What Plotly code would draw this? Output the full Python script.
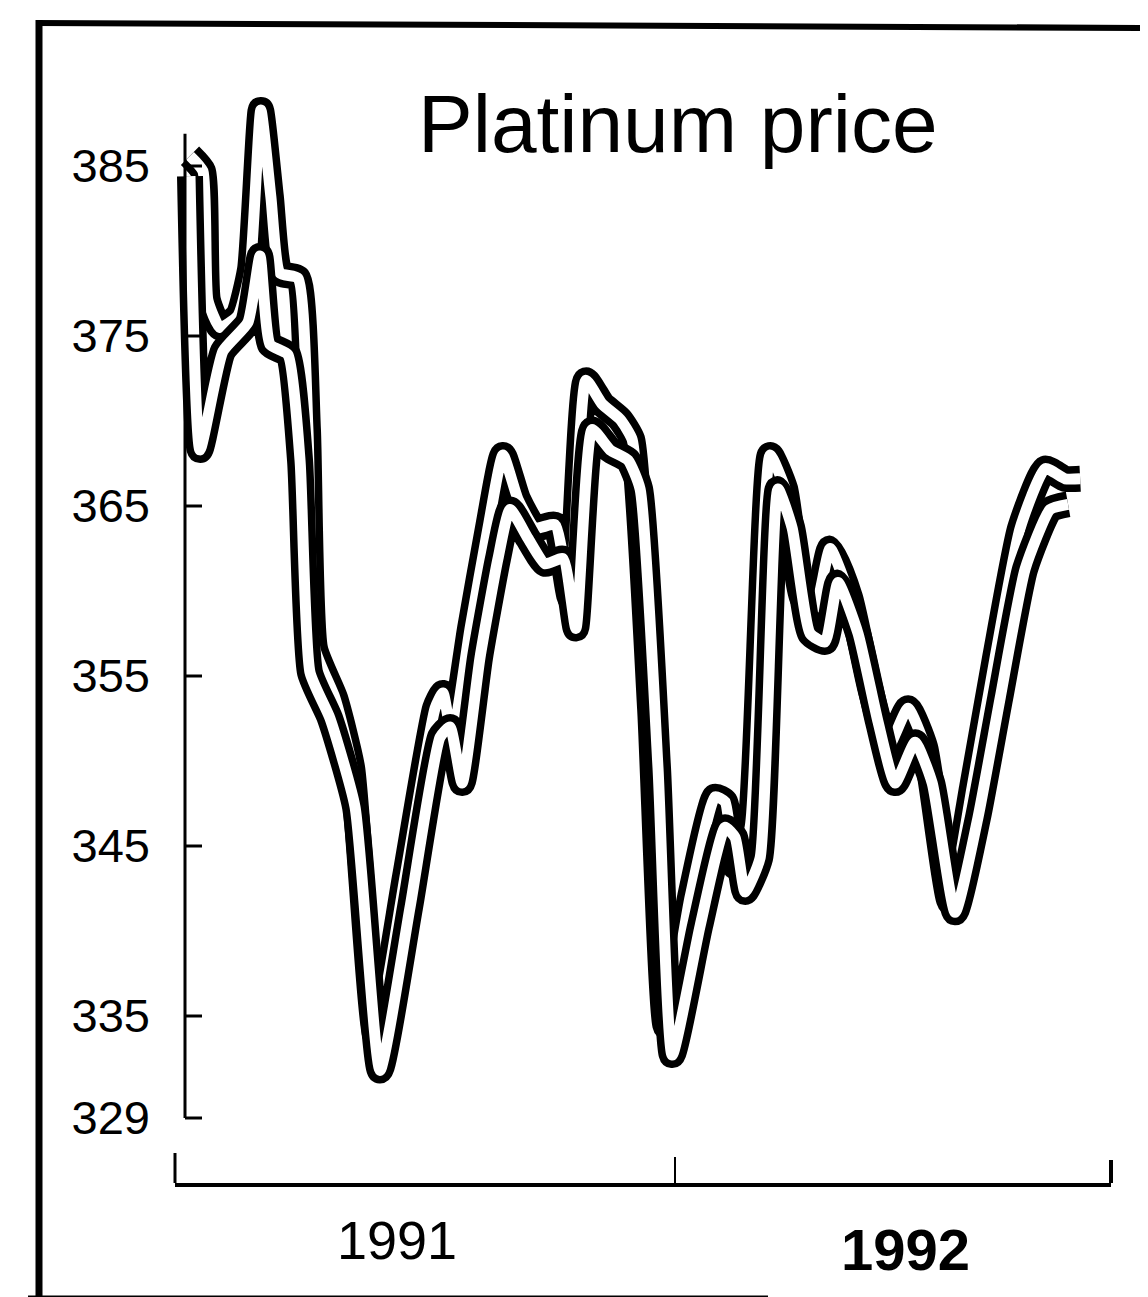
import plotly.graph_objects as go

# ---- data (months since Jan 1991, price in US$/oz) ----
months_a = [0.36, 0.67, 0.79, 1.08, 1.51, 1.80, 2.06, 2.30, 2.52, 2.95, 3.19, 3.36, 3.84, 4.25, 4.82,
            5.52, 6.24, 6.43, 6.65, 7.08, 7.51, 7.87, 8.23, 8.64, 9.12, 9.48, 9.86, 10.25, 10.68, 10.97,
            11.40, 11.78, 12.36, 12.96, 13.20, 13.44, 13.80, 14.28, 14.64, 15.05, 15.36, 15.72, 16.20,
            16.68, 17.11, 17.59, 18.00, 18.60, 19.13, 19.68, 20.28, 20.88, 21.36, 21.72]
price_a = [385.6, 384.7, 377.1, 375.5, 376.2, 378.9, 388.3, 383.2, 378.7, 378.4, 369.5, 356.6, 353.7,
           349.6, 333.8, 343.2, 353.1, 354.0, 351.4, 357.8, 363.7, 368.0, 365.4, 363.7, 363.9, 359.6,
           372.4, 371.0, 370.1, 368.9, 353.1, 334.4, 342.0, 347.9, 347.6, 343.8, 346.1, 368.0, 366.0,
           359.6, 359.0, 362.5, 359.6, 354.3, 350.8, 353.1, 350.8, 341.7, 348.5, 356.1, 363.7, 367.2,
           366.6, 366.6]

months_b = [0.36, 0.60, 1.15, 1.75, 2.04, 2.28, 2.71, 3.00, 3.24, 3.72, 4.32, 4.92, 5.64, 6.36, 6.60,
            6.89, 7.32, 7.75, 8.04, 8.47, 8.88, 9.31, 9.62, 10.01, 10.44, 10.87, 11.16, 11.59, 11.93,
            12.60, 13.20, 13.44, 13.68, 14.04, 14.47, 14.81, 15.24, 15.60, 15.91, 16.39, 16.87, 17.28,
            17.76, 18.17, 18.72, 19.27, 19.80, 20.40, 21.00, 21.43]
price_b = [384.4, 368.3, 374.1, 375.8, 379.7, 374.5, 373.9, 367.7, 355.2, 352.5, 347.3, 331.8, 341.4,
           351.4, 352.0, 348.7, 356.1, 361.9, 364.8, 363.1, 361.6, 361.9, 357.8, 369.5, 368.3, 367.7,
           366.0, 349.6, 332.7, 340.3, 346.1, 345.5, 342.3, 344.3, 366.0, 363.7, 357.5, 357.0, 360.5,
           357.5, 352.3, 348.7, 351.1, 348.7, 341.1, 346.7, 353.7, 361.3, 364.8, 365.1]

y_ticks = [385, 375, 365, 355, 345, 335, 329]
y_tick_text = ["385", "375", "365", "355", "345", "335", "329"]
year_labels = ["1991", "1992"]
year_pos = [5.33, 17.52]
year_tick = [12]
title_text = "Platinum price"

# plot area in pixels: x 167..1103, y 60..1175 ; 17 px per $ (365 at y=498)
L, R, T, B = 167, 1103, 60, 1175
X_RANGE = [0, 22.46]
Y_RANGE = [365 - (B - 498) / 17.0, 365 + (498 - T) / 17.0]

FONT = "Liberation Sans, Arial, sans-serif"

fig = go.Figure()
for mx, py in [(months_a, price_a), (months_b, price_b)]:
    fig.add_trace(go.Scatter(x=mx, y=py, mode="lines",
                             line=dict(color="black", width=26, shape="spline", smoothing=0.5),
                             hoverinfo="skip", showlegend=False))
    fig.add_trace(go.Scatter(x=mx, y=py, mode="lines",
                             line=dict(color="white", width=11, shape="spline", smoothing=0.5),
                             hoverinfo="skip", showlegend=False))

def px(xp):
    return (xp - L) / (R - L)
def py_(yp):
    return (B - yp) / (B - T)

shapes = [
    # outer frame (left, top, bottom)
    dict(type="line", xref="paper", yref="paper", x0=px(31), x1=px(31), y0=py_(12), y1=py_(1292),
         line=dict(color="black", width=7)),
    dict(type="line", xref="paper", yref="paper", x0=px(28), x1=px(1148), y0=py_(15), y1=py_(20),
         line=dict(color="black", width=6)),
    dict(type="line", xref="paper", yref="paper", x0=px(20), x1=px(760), y0=py_(1290), y1=py_(1290),
         line=dict(color="black", width=5)),
    # y axis line
    dict(type="line", xref="paper", yref="y", x0=px(177), x1=px(177), y0=329, y1=386.9,
         line=dict(color="black", width=3)),
    # small verticals at x-axis ends
    dict(type="line", xref="paper", yref="paper", x0=0, x1=0, y0=0, y1=py_(1145),
         line=dict(color="black", width=3)),
    dict(type="line", xref="paper", yref="paper", x0=1, x1=1, y0=0, y1=py_(1152),
         line=dict(color="black", width=4)),
]
# y ticks drawn from the axis line to the right
for v in y_ticks:
    shapes.append(dict(type="line", xref="paper", yref="y", x0=px(177), x1=px(194), y0=v, y1=v,
                       line=dict(color="black", width=3)))

annotations = [
    dict(text=title_text, xref="paper", yref="paper", x=px(670), y=py_(115),
         xanchor="center", yanchor="middle", showarrow=False,
         font=dict(family=FONT, size=82, color="black")),
    dict(text=year_labels[0], xref="x", yref="paper", x=year_pos[0], y=py_(1232),
         xanchor="center", yanchor="middle", showarrow=False,
         font=dict(family=FONT, size=54, color="black")),
    dict(text="<b>" + year_labels[1] + "</b>", xref="x", yref="paper", x=year_pos[1], y=py_(1241),
         xanchor="center", yanchor="middle", showarrow=False,
         font=dict(family=FONT, size=58, color="black")),
]

fig.update_layout(
    width=1148, height=1297,
    margin=dict(l=L, r=1148 - R, t=T, b=1297 - B),
    paper_bgcolor="white", plot_bgcolor="white",
    shapes=shapes, annotations=annotations,
    showlegend=False,
)
fig.update_xaxes(range=X_RANGE, showgrid=False, zeroline=False, showline=True, linecolor="black",
                 linewidth=4, tickvals=year_tick, ticktext=[""], ticks="inside", ticklen=26,
                 tickwidth=2, tickcolor="black", showticklabels=False)
fig.update_yaxes(range=Y_RANGE, showgrid=False, zeroline=False, showline=False,
                 tickvals=y_ticks, ticktext=y_tick_text, ticks="", ticklabelstandoff=24,
                 tickfont=dict(family=FONT, size=47, color="black"))

fig.write_html("out.html")
